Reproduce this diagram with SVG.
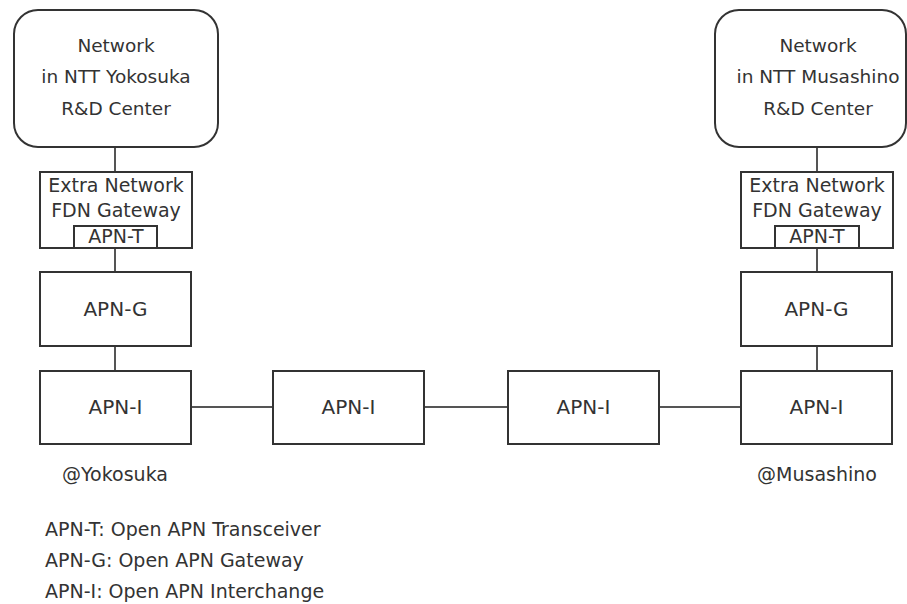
<svg xmlns="http://www.w3.org/2000/svg" width="907" height="604" viewBox="0 0 907 604">
<style>
  .box{fill:#fff;stroke:#333;stroke-width:2}
  .conn{stroke:#555;stroke-width:2;fill:none}
  text{font-family:"DejaVu Sans","Liberation Sans",sans-serif;fill:#333}
  .c{text-anchor:middle}
  .net{font-size:18.5px}
  .lbl{font-size:19px}
  .big{font-size:20px}
</style>
<rect width="907" height="604" fill="#fff"/>
<g id="connectors">
  <line class="conn" x1="115" y1="147" x2="115" y2="172"/>
  <line class="conn" x1="115" y1="248" x2="115" y2="272"/>
  <line class="conn" x1="115" y1="346" x2="115" y2="371"/>
  <line class="conn" x1="817" y1="147" x2="817" y2="172"/>
  <line class="conn" x1="817" y1="248" x2="817" y2="272"/>
  <line class="conn" x1="817" y1="346" x2="817" y2="371"/>
  <line class="conn" x1="191" y1="407" x2="273" y2="407"/>
  <line class="conn" x1="424" y1="407" x2="508" y2="407"/>
  <line class="conn" x1="659" y1="407" x2="741" y2="407"/>
</g>
<g id="net-yokosuka">
  <rect class="box" x="14" y="10" width="204" height="137" rx="24"/>
  <text class="net c" x="116" y="52">Network</text>
  <text class="net c" x="116" y="83">in NTT Yokosuka</text>
  <text class="net c" x="116" y="115">R&amp;D Center</text>
</g>
<g id="net-musashino">
  <rect class="box" x="715" y="10" width="191" height="137" rx="24"/>
  <text class="net c" x="818" y="52">Network</text>
  <text class="net c" x="818" y="83">in NTT Musashino</text>
  <text class="net c" x="818" y="115">R&amp;D Center</text>
</g>
<g id="fdn-yokosuka">
  <rect class="box" x="40" y="172" width="152" height="76"/>
  <text class="lbl c" x="116" y="192">Extra Network</text>
  <text class="lbl c" x="116" y="217">FDN Gateway</text>
  <rect class="box" x="74" y="226" width="83" height="22"/>
  <text class="lbl c" x="116" y="243">APN-T</text>
</g>
<g id="fdn-musashino">
  <rect class="box" x="741" y="172" width="152" height="76"/>
  <text class="lbl c" x="817" y="192">Extra Network</text>
  <text class="lbl c" x="817" y="217">FDN Gateway</text>
  <rect class="box" x="775" y="226" width="84" height="22"/>
  <text class="lbl c" x="817" y="243">APN-T</text>
</g>
<g id="apng-yokosuka">
  <rect class="box" x="40" y="272" width="151" height="74"/>
  <text class="big c" x="115.5" y="316">APN-G</text>
</g>
<g id="apng-musashino">
  <rect class="box" x="741" y="272" width="151" height="74"/>
  <text class="big c" x="816.5" y="316">APN-G</text>
</g>
<g id="apni-1">
  <rect class="box" x="40" y="371" width="151" height="73"/>
  <text class="big c" x="115.5" y="414">APN-I</text>
</g>
<g id="apni-2">
  <rect class="box" x="273" y="371" width="151" height="73"/>
  <text class="big c" x="348.5" y="414">APN-I</text>
</g>
<g id="apni-3">
  <rect class="box" x="508" y="371" width="151" height="73"/>
  <text class="big c" x="583.5" y="414">APN-I</text>
</g>
<g id="apni-4">
  <rect class="box" x="741" y="371" width="151" height="73"/>
  <text class="big c" x="816.5" y="414">APN-I</text>
</g>
<g id="labels">
  <text class="lbl c" x="115" y="481">@Yokosuka</text>
  <text class="lbl c" x="817" y="481">@Musashino</text>
  <text class="lbl" x="45" y="536">APN-T: Open APN Transceiver</text>
  <text class="lbl" x="45" y="567">APN-G: Open APN Gateway</text>
  <text class="lbl" x="45" y="598">APN-I: Open APN Interchange</text>
</g>
</svg>
